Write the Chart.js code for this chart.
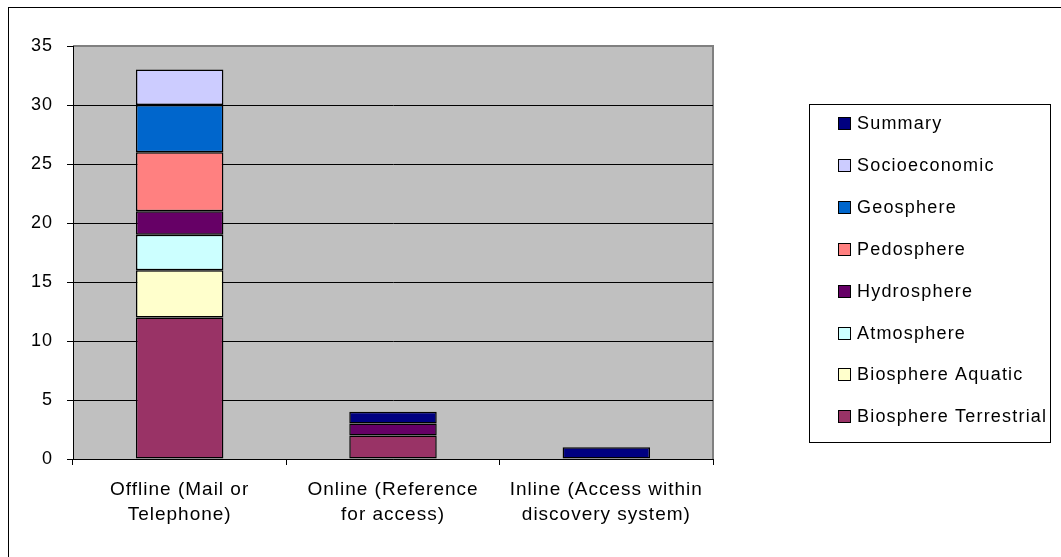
<!DOCTYPE html>
<html>
<head>
<meta charset="utf-8">
<script src="https://cdn.jsdelivr.net/npm/chart.js@4"></script>
<style>
  html, body { margin: 0; padding: 0; overflow: hidden; background: #fff; }
  canvas { display: block; }
</style>
</head>
<body>
<canvas id="accessChart" width="1061" height="557"></canvas>
<script>
  // Access methods, split by topic
  const categories = [
    ['Offline (Mail or', 'Telephone)'],
    ['Online (Reference', 'for access)'],
    ['Inline (Access within', 'discovery system)']
  ];
  const seriesNames = ['Biosphere Terrestrial', 'Biosphere Aquatic', 'Atmosphere', 'Hydrosphere',
    'Pedosphere', 'Geosphere', 'Socioeconomic', 'Summary'];
  const seriesColors = ['#993366', '#FFFFCC', '#CCFFFF', '#660066',
    '#FF8080', '#0066CC', '#CCCCFF', '#000080'];
  const biosphereTerrestrial = [12, 2, 0];
  const biosphereAquatic = [4, 0, 0];
  const atmosphere = [3, 0, 0];
  const hydrosphere = [2, 1, 0];
  const pedosphere = [5, 0, 0];
  const geosphere = [4, 0, 0];
  const socioeconomic = [3, 0, 0];
  const summary = [0, 1, 1];
  const yTicks = [0, 5, 10, 15, 20, 25, 30, 35];

  const seriesValues = [biosphereTerrestrial, biosphereAquatic, atmosphere, hydrosphere,
    pedosphere, geosphere, socioeconomic, summary];

  const FONT = { family: '"Liberation Sans", Arial, sans-serif', size: 18 };

  // gray plot area, outer frame and letter spacing like the old office charts
  const frame = {
    id: 'frame',
    beforeDraw(chart) {
      const { ctx, chartArea: a } = chart;
      ctx.save();
      ctx.fillStyle = '#fff';
      ctx.fillRect(0, 0, chart.width, chart.height);
      ctx.strokeStyle = '#000';
      ctx.lineWidth = 1;
      ctx.strokeRect(8.5, 7.5, chart.width + 20, chart.height + 20);
      ctx.fillStyle = '#C0C0C0';
      ctx.fillRect(a.left, a.top, a.right - a.left, a.bottom - a.top);
      ctx.strokeStyle = '#808080';
      ctx.lineWidth = 2;
      ctx.beginPath();
      ctx.moveTo(a.left, a.top);
      ctx.lineTo(a.right, a.top);
      ctx.lineTo(a.right, a.bottom);
      ctx.stroke();
      ctx.restore();
      ctx.letterSpacing = '1px';
    }
  };

  // boxed legend on the right, top entry = last series
  const sideLegend = {
    id: 'sideLegend',
    afterDraw(chart) {
      const ctx = chart.ctx;
      const x = 809, y = 104, w = 241, h = 338;
      const step = 41.9;
      ctx.save();
      ctx.strokeStyle = '#000';
      ctx.lineWidth = 1;
      ctx.strokeRect(x + 0.5, y + 0.5, w, h);
      ctx.font = FONT.size + 'px ' + FONT.family;
      ctx.letterSpacing = '1.2px';
      ctx.textBaseline = 'middle';
      ctx.fillStyle = '#000';
      const sets = chart.data.datasets.slice().reverse();
      sets.forEach((ds, i) => {
        const cy = Math.round(123 + i * step);
        ctx.fillStyle = ds.backgroundColor;
        ctx.fillRect(838, cy - 6, 13, 13);
        ctx.strokeStyle = '#000';
        ctx.strokeRect(838.5, cy - 5.5, 12, 12);
        ctx.fillStyle = '#000';
        ctx.fillText(ds.label, 857, cy + 1);
      });
      ctx.restore();
    }
  };

  const ctx = document.getElementById('accessChart').getContext('2d');
  const accessChart = new Chart(ctx, {
    type: 'bar',
    data: {
      labels: categories,
      datasets: seriesNames.map((name, i) => ({
        label: name,
        data: seriesValues[i],
        backgroundColor: seriesColors[i],
        borderColor: '#000',
        borderWidth: 1.5,
        borderSkipped: false,
        categoryPercentage: 1,
        barPercentage: 0.41
      }))
    },
    options: {
      responsive: false,
      animation: false,
      layout: { padding: { left: 0, top: 46, right: 348, bottom: 0 } },
      plugins: {
        legend: { display: false },
        tooltip: { enabled: false }
      },
      scales: {
        x: {
          stacked: true,
          afterFit(scale) { scale.height = 98; },
          grid: {
            offset: true,
            drawOnChartArea: false,
            drawTicks: true,
            tickLength: 6,
            color: '#000'
          },
          border: { color: '#000', width: 1 },
          ticks: {
            color: '#000',
            font: { family: FONT.family, size: 19, lineHeight: 1.33 },
            padding: 12,
            maxRotation: 0
          }
        },
        y: {
          stacked: true,
          min: 0,
          max: 35,
          afterFit(scale) { scale.width = 73; },
          afterBuildTicks(scale) { scale.ticks = yTicks.map(v => ({ value: v })); },
          grid: {
            color: c => (c.tick && c.tick.value === 35) ? '#808080' : '#000',
            tickColor: '#000',
            tickLength: 6,
            lineWidth: 1
          },
          border: { color: '#000', width: 1 },
          ticks: { color: '#000', font: FONT, padding: 14 }
        }
      }
    },
    plugins: [frame, sideLegend]
  });
</script>
</body>
</html>
